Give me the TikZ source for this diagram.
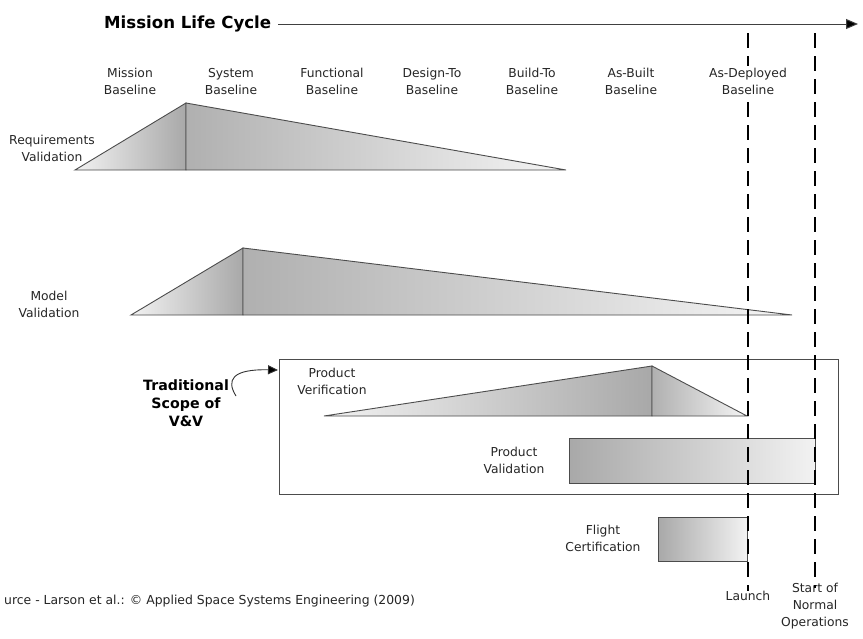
\documentclass[tikz,border=0pt]{standalone}
\usepackage{fontspec}
\setmainfont{DejaVu Sans}
\usetikzlibrary{arrows.meta}
\newcommand\twoline[2]{\strut #1\\\strut #2}
\begin{document}
\begin{tikzpicture}[x=1pt,y=-1pt,
  lbl/.style={font=\fontsize{12.3}{17}\selectfont,align=center,text=black!85,inner sep=0pt},
  bold/.style={font=\bfseries\fontsize{14.2}{18}\selectfont,align=center,inner sep=0pt},
  edge/.style={draw=black!70,line width=0.9pt},
  msline/.style={draw=black,line width=2pt,dash pattern=on 15pt off 8pt},
  up/.style={edge,left color=black!5,right color=black!34},
  down/.style={edge,left color=black!31,right color=black!4},
  bar/.style={edge,left color=black!34,right color=black!5}]
\useasboundingbox (0,0) rectangle (863,638);
\fill[white] (0,0) rectangle (863,638);
% title and axis
\node[bold,font=\bfseries\fontsize{16.6}{18}\selectfont,anchor=west] (title) at (104,24) {Mission Life Cycle};
\coordinate (axisend) at (858,24);
\draw[black!75,line width=1pt,-{Triangle[length=12pt,width=10pt,fill=black]}] (title.east)++(7pt,0) -- (axisend);
% requirements validation
\node[lbl] (rv) at (52,150) {\twoline{Requirements}{Validation}};
\path[up] (75,170) -- (186,103) -- (186,170) -- cycle;
\path[down] (186,103) -- (566,170) -- (186,170) -- cycle;
% model validation
\node[lbl] (mv) at (49,306) {\twoline{Model}{Validation}};
\path[up] (131,315) -- (243,248) -- (243,315) -- cycle;
\path[down] (243,248) -- (792,315) -- (243,315) -- cycle;
% scope box
\node[draw=black!70,line width=0.9pt,minimum width=559pt,minimum height=135pt,inner sep=0pt] (box) at (558.5,426.5) {};
\node[bold] (trad) at (186,403) {Traditional\\Scope of\\V\&V};
\coordinate (cs) at (236,396);
\coordinate (ct) at (278,370);
\draw[black!80,line width=0.9pt,-{Triangle[length=10pt,width=9pt,fill=black]}] (cs) .. controls (226,380) and (232,369) .. (ct);
% product verification
\node[lbl] (pv) at (332,383) {\twoline{Product}{Verification}};
\path[up] (324,416) -- (652,366) -- (652,416) -- cycle;
\path[down] (652,366) -- (747,416) -- (652,416) -- cycle;
% product validation
\node[lbl] (pval) at (514,462) {\twoline{Product}{Validation}};
\path[bar] (569,438) rectangle (815,483);
% flight certification
\node[lbl] (fc) at (603,540) {\twoline{Flight}{Certification}};
\path[bar] (658,517) rectangle (747,561);
% milestones
\node[lbl] (launch) at (748,596) {Launch};
\node[lbl] (start) at (815,606) {\strut Start of\\\strut Normal\\\strut Operations};
\coordinate (l1) at (748,33);
\coordinate (s1) at (815,33);
\coordinate (s2) at (815,588);
\draw[msline] (l1) -- (launch.north);
\draw[msline] (s1) -- (s2);
% baselines
\node[lbl] (b1) at (130,83) {\twoline{Mission}{Baseline}};
\node[lbl] (b2) at (231,83) {\twoline{System}{Baseline}};
\node[lbl] (b3) at (332,83) {\twoline{Functional}{Baseline}};
\node[lbl] (b4) at (432,83) {\twoline{Design-To}{Baseline}};
\node[lbl] (b5) at (532,83) {\twoline{Build-To}{Baseline}};
\node[lbl] (b6) at (631,83) {\twoline{As-Built}{Baseline}};
\node[lbl,fill=white] (b7) at (748,83) {\twoline{As-Deployed}{Baseline}};
% source
\node[lbl,anchor=west,font=\fontsize{12.4}{14}\selectfont] (src) at (4,601) {urce - Larson et al.: © Applied Space Systems Engineering (2009)};
\end{tikzpicture}
\end{document}
